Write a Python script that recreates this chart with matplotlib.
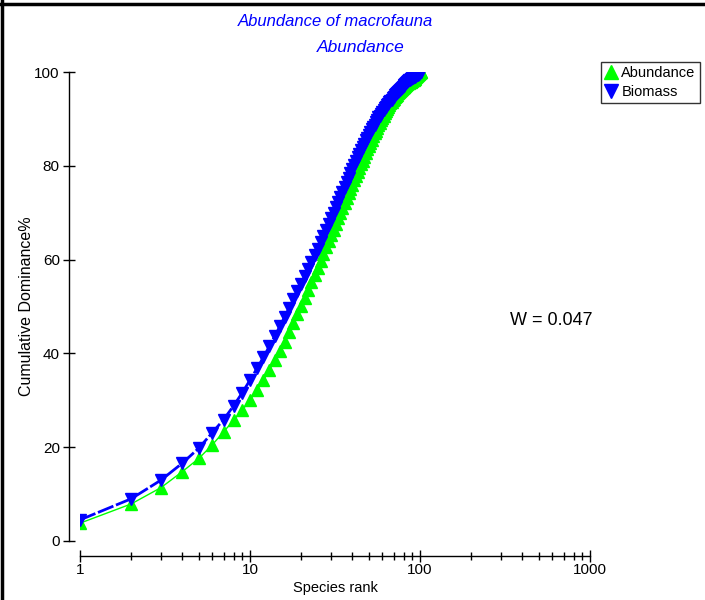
import matplotlib
matplotlib.use("Agg")
import matplotlib.pyplot as plt
from matplotlib.lines import Line2D
from matplotlib.ticker import LogLocator, FixedLocator, NullFormatter

plt.rcParams['font.family'] = ['Liberation Sans', 'DejaVu Sans']

abundance = [3.8, 7.9, 11.4, 14.8, 17.6, 20.5, 23.3, 25.7, 27.9, 30.0,
             32.2, 34.3, 36.4, 38.5, 40.5, 42.5, 44.5, 46.4, 48.3, 50.1,
             51.9, 53.6, 55.2, 56.8, 58.3, 59.8, 61.2, 62.6, 63.9, 65.2,
             66.4, 67.6, 68.8, 69.9, 71.0, 72.1, 73.1, 74.1, 75.1, 76.0,
             76.9, 77.8, 78.7, 79.5, 80.3, 81.1, 81.9, 82.7, 83.5, 84.2,
             84.9, 85.6, 86.3, 86.9, 87.5, 88.1, 88.7, 89.2, 89.7, 90.2,
             90.7, 91.2, 91.7, 92.1, 92.5, 92.9, 93.3, 93.7, 94.0, 94.3,
             94.6, 94.9, 95.2, 95.5, 95.7, 95.9, 96.1, 96.3, 96.5, 96.7,
             96.9, 97.1, 97.3, 97.5, 97.6, 97.7, 97.8, 97.9, 98.0, 98.1,
             98.3, 98.4, 98.6, 98.8, 99.0, 99.2, 99.4, 99.5, 99.7, 99.8,
             99.9, 100.0]

biomass = [4.5, 9.0, 13.0, 16.6, 19.8, 23.1, 25.9, 28.8, 31.6, 34.3,
           36.8, 39.2, 41.5, 43.7, 45.8, 47.8, 49.7, 51.5, 53.2, 54.9,
           56.5, 58.0, 59.5, 60.9, 62.3, 63.7, 65.0, 66.3, 67.6, 68.8,
           70.0, 71.2, 72.3, 73.4, 74.5, 75.5, 76.5, 77.5, 78.4, 79.3,
           80.2, 81.0, 81.8, 82.6, 83.3, 84.0, 84.7, 85.4, 86.0, 86.6,
           87.2, 87.8, 88.3, 88.8, 89.3, 89.8, 90.3, 90.7, 91.1, 91.5,
           91.9, 92.3, 92.6, 92.9, 93.2, 93.5, 93.8, 94.1, 94.4, 94.7,
           95.0, 95.3, 95.6, 95.8, 96.0, 96.2, 96.4, 96.6, 96.8, 97.0,
           97.2, 97.4, 97.6, 97.8, 98.0, 98.2, 98.4, 98.5, 98.6, 98.7,
           98.8, 98.9, 99.0, 99.1, 99.2, 99.3, 99.4, 99.5, 99.6, 99.7,
           99.9, 100.0]

ranks = list(range(1, len(abundance) + 1))
y_ticks = [0, 20, 40, 60, 80, 100]
x_ticks = [1, 10, 100, 1000]
x_ticklabels = ["1", "10", "100", "1000"]

GREEN = "#00FF00"
BLUE = "#0000FF"

fig = plt.figure(figsize=(7.05, 6.0), dpi=100)
ax = fig.add_axes([80/705, 59/600, 510/705, 469/600])

ax.plot(ranks, abundance, color=GREEN, lw=1.0, marker='^', ms=9,
        mec=GREEN, mfc=GREEN, zorder=2)
ax.plot(ranks, biomass, color=BLUE, lw=2.0, ls=(0, (6, 1)), marker='v', ms=9,
        mec=BLUE, mfc=BLUE, zorder=3)

ax.set_xscale('log')
ax.set_xlim(1, 1000)
ax.set_ylim(0, 100)

for s in ['top', 'right']:
    ax.spines[s].set_visible(False)
ax.spines['left'].set_position(('outward', 8))
ax.spines['bottom'].set_position(('outward', 11))
ax.spines['left'].set_bounds(0, 100)
ax.spines['bottom'].set_bounds(1, 1000)
ax.spines['left'].set_linewidth(1.0)
ax.spines['bottom'].set_linewidth(1.0)

ax.yaxis.set_major_locator(FixedLocator(y_ticks))
ax.set_yticklabels([str(v) for v in y_ticks])
ax.xaxis.set_major_locator(FixedLocator(x_ticks))
ax.set_xticklabels(x_ticklabels)
ax.xaxis.set_minor_locator(LogLocator(base=10, subs=range(2, 10)))
ax.xaxis.set_minor_formatter(NullFormatter())

ax.tick_params(axis='y', which='major', direction='inout', length=9, width=1,
               labelsize=11, pad=2)
ax.tick_params(axis='x', which='major', direction='inout', length=9, width=1,
               labelsize=11, pad=0)
ax.tick_params(axis='x', which='minor', direction='inout', length=6, width=1)

ax.set_xlabel("Species rank", fontsize=10.5, labelpad=3)
ax.set_ylabel("Cumulative Dominance%", fontsize=11.5, labelpad=0)

fig.text(335/705, 1 - 21/600, "Abundance of macrofauna", ha='center', va='center',
         fontsize=12, style='italic', color=BLUE)
fig.text(361/705, 1 - 48/600, "Abundance", ha='center', va='center',
         fontsize=12.5, style='italic', color=BLUE)

ax.text(340, 47, "W = 0.047", ha='left', va='center', fontsize=13)

handles = [Line2D([], [], ls='none', marker='^', ms=10, color=GREEN),
           Line2D([], [], ls='none', marker='v', ms=10, color=BLUE)]
leg = fig.legend(handles, ["Abundance", "Biomass"], loc='upper right',
                 bbox_to_anchor=(700/705, 1 - 62/600),
                 prop={'size': 10.5},
                 frameon=True, fancybox=False, edgecolor='black',
                 handlelength=0.8, handletextpad=0.3, borderpad=0.3,
                 labelspacing=0.3, borderaxespad=0)
leg.get_frame().set_linewidth(1.0)

fig.add_artist(Line2D([0, 1], [1 - 4/600, 1 - 4/600], color='black', lw=2.5,
                      transform=fig.transFigure))
fig.add_artist(Line2D([1.5/705, 1.5/705], [0, 1], color='black', lw=2.5,
                      transform=fig.transFigure))

fig.savefig("out.png", dpi=100)
